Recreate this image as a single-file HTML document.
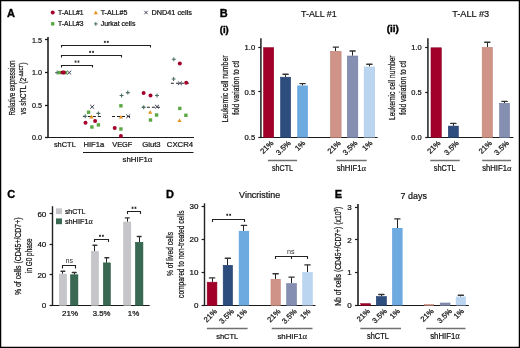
<!DOCTYPE html>
<html><head><meta charset="utf-8"><style>
html,body{margin:0;padding:0;background:#fff;}
svg{display:block;will-change:transform;filter:blur(0.3px);font-family:"Liberation Sans",sans-serif;}
</style></head><body>
<svg width="520" height="348" viewBox="0 0 520 348">
<rect width="520" height="348" fill="#fff"/>
<rect x="0.6" y="0.6" width="518.8" height="346.8" fill="none" stroke="#000" stroke-width="1.3"/>
<text x="7" y="17" font-size="11" text-anchor="start" font-weight="bold" fill="#000" stroke="#000" stroke-width="0.35">A</text>
<circle cx="52.7" cy="12.4" r="2" fill="#a2002b"/>
<text x="58" y="15" font-size="7" text-anchor="start" font-weight="normal" fill="#111" textLength="25.5" lengthAdjust="spacingAndGlyphs" stroke="#111" stroke-width="0.22">T-ALL#1</text>
<rect x="51" y="22.1" width="3.4" height="3.4" fill="#5aa843"/>
<text x="58" y="26.4" font-size="7" text-anchor="start" font-weight="normal" fill="#111" textLength="25.5" lengthAdjust="spacingAndGlyphs" stroke="#111" stroke-width="0.22">T-ALL#3</text>
<path d="M95.8,10.6 L97.9,14.2 L93.7,14.2 Z" fill="#e8901c"/>
<text x="100.7" y="15" font-size="7" text-anchor="start" font-weight="normal" fill="#111" textLength="26.7" lengthAdjust="spacingAndGlyphs" stroke="#111" stroke-width="0.22">T-ALL#5</text>
<path d="M95.8,22 v3.8 M93.9,23.9 h3.8" stroke="#4a7062" stroke-width="1"/>
<text x="100.7" y="26.4" font-size="7" text-anchor="start" font-weight="normal" fill="#111" textLength="34.7" lengthAdjust="spacingAndGlyphs" stroke="#111" stroke-width="0.22">Jurkat cells</text>
<path d="M144.3,10.8 l3.4,3.4 M147.7,10.8 l-3.4,3.4" stroke="#3b3f55" stroke-width="0.95"/>
<text x="151.5" y="15" font-size="7" text-anchor="start" font-weight="normal" fill="#111" textLength="40.5" lengthAdjust="spacingAndGlyphs" stroke="#111" stroke-width="0.22">DND41 cells</text>
<line x1="48" y1="37" x2="48" y2="138" stroke="#3a3a3a" stroke-width="1.8"/>
<line x1="45" y1="137.5" x2="194" y2="137.5" stroke="#1a1a1a" stroke-width="1.2"/>
<line x1="45" y1="39.5" x2="48" y2="39.5" stroke="#1a1a1a" stroke-width="1.3"/>
<text x="41.9" y="42.599999999999994" font-size="8" text-anchor="end" font-weight="normal" fill="#111" textLength="10" lengthAdjust="spacingAndGlyphs" stroke="#111" stroke-width="0.22">1.5</text>
<line x1="45" y1="72.5" x2="48" y2="72.5" stroke="#1a1a1a" stroke-width="1.3"/>
<text x="41.9" y="75.2" font-size="8" text-anchor="end" font-weight="normal" fill="#111" textLength="10" lengthAdjust="spacingAndGlyphs" stroke="#111" stroke-width="0.22">1.0</text>
<line x1="45" y1="105.5" x2="48" y2="105.5" stroke="#1a1a1a" stroke-width="1.3"/>
<text x="41.9" y="107.89999999999999" font-size="8" text-anchor="end" font-weight="normal" fill="#111" textLength="10" lengthAdjust="spacingAndGlyphs" stroke="#111" stroke-width="0.22">0.5</text>
<line x1="45" y1="137.5" x2="48" y2="137.5" stroke="#1a1a1a" stroke-width="1.3"/>
<text x="41.9" y="140.20000000000002" font-size="8" text-anchor="end" font-weight="normal" fill="#111" textLength="10" lengthAdjust="spacingAndGlyphs" stroke="#111" stroke-width="0.22">0.0</text>
<text transform="translate(14.5,88) rotate(-90)" font-size="8.8" text-anchor="middle" font-weight="normal" fill="#111" textLength="55" lengthAdjust="spacingAndGlyphs" stroke="#111" stroke-width="0.22">Relative expression</text>
<text transform="translate(25.6,88.5) rotate(-90)" font-size="8.8" text-anchor="middle" font-weight="normal" fill="#111" textLength="52" lengthAdjust="spacingAndGlyphs" stroke="#111" stroke-width="0.22">vs shCTL (2<tspan font-size="5.5" dy="-2.8">-ΔΔCT</tspan><tspan dy="2.8">)</tspan></text>
<text x="53.9" y="147.4" font-size="7.8" text-anchor="start" font-weight="normal" fill="#111" textLength="21.9" lengthAdjust="spacingAndGlyphs" stroke="#111" stroke-width="0.22">shCTL</text>
<text x="83.5" y="147.4" font-size="7.8" text-anchor="start" font-weight="normal" fill="#111" textLength="20.7" lengthAdjust="spacingAndGlyphs" stroke="#111" stroke-width="0.22">HIF1a</text>
<text x="112.3" y="147.4" font-size="7.8" text-anchor="start" font-weight="normal" fill="#111" textLength="20.0" lengthAdjust="spacingAndGlyphs" stroke="#111" stroke-width="0.22">VEGF</text>
<text x="142.2" y="147.4" font-size="7.8" text-anchor="start" font-weight="normal" fill="#111" textLength="18.4" lengthAdjust="spacingAndGlyphs" stroke="#111" stroke-width="0.22">Glut3</text>
<text x="166.8" y="147.4" font-size="7.8" text-anchor="start" font-weight="normal" fill="#111" textLength="26.4" lengthAdjust="spacingAndGlyphs" stroke="#111" stroke-width="0.22">CXCR4</text>
<line x1="83" y1="152.5" x2="193.5" y2="152.5" stroke="#1a1a1a" stroke-width="1.1"/>
<text x="122.5" y="162.3" font-size="7.8" text-anchor="start" font-weight="normal" fill="#111" textLength="29.9" lengthAdjust="spacingAndGlyphs" stroke="#111" stroke-width="0.22">shHIF1<tspan font-family="Liberation Serif" font-size="1.12em" stroke-width="0.1">α</tspan></text>
<path d="M61.5,47.5 L61.5,45.5 L150.5,45.5 L150.5,47.5" fill="none" stroke="#222" stroke-width="1.1"/>
<path d="M61.5,57.5 L61.5,55.5 L121.5,55.5 L121.5,57.5" fill="none" stroke="#222" stroke-width="1.1"/>
<path d="M61.5,67.5 L61.5,65.5 L92.5,65.5 L92.5,67.5" fill="none" stroke="#222" stroke-width="1.1"/>
<path d="M104.85,40.80L104.85,43.00M103.90,41.35L105.80,42.45M105.80,41.35L103.90,42.45M107.75,40.80L107.75,43.00M106.80,41.35L108.70,42.45M108.70,41.35L106.80,42.45" stroke="#222" stroke-width="0.8" fill="none"/>
<path d="M90.15,50.80L90.15,53.00M89.20,51.35L91.10,52.45M91.10,51.35L89.20,52.45M93.05,50.80L93.05,53.00M92.10,51.35L94.00,52.45M94.00,51.35L92.10,52.45" stroke="#222" stroke-width="0.8" fill="none"/>
<path d="M75.55,60.50L75.55,62.70M74.60,61.05L76.50,62.15M76.50,61.05L74.60,62.15M78.45,60.50L78.45,62.70M77.50,61.05L79.40,62.15M79.40,61.05L77.50,62.15" stroke="#222" stroke-width="0.8" fill="none"/>
<path d="M57.199999999999996,70.6 v4 M55.199999999999996,72.6 h4" stroke="#4a7062" stroke-width="1.1"/>
<rect x="57.8" y="70.89999999999999" width="3.4" height="3.4" fill="#5aa843"/>
<rect x="63.8" y="70.89999999999999" width="3.4" height="3.4" fill="#5aa843"/>
<circle cx="62.5" cy="72.6" r="2" fill="#a2002b"/>
<circle cx="63.8" cy="72.6" r="2" fill="#a2002b"/>
<path d="M67.2,70.69999999999999 l4,3.8 M71.2,70.69999999999999 l-4,3.8" stroke="#3b3f55" stroke-width="1"/>
<line x1="82.9" y1="116.5" x2="101.5" y2="116.5" stroke="#222" stroke-width="1.1" stroke-dasharray="3,2"/>
<path d="M90.2,104.89999999999999 l4,3.8 M94.2,104.89999999999999 l-4,3.8" stroke="#3b3f55" stroke-width="1"/>
<rect x="86.89999999999999" y="110.5" width="3.4" height="3.4" fill="#5aa843"/>
<path d="M98.4,111.4 v4 M96.4,113.4 h4" stroke="#4a7062" stroke-width="1.1"/>
<path d="M85.2,114.3 v4 M83.2,116.3 h4" stroke="#4a7062" stroke-width="1.1"/>
<path d="M91.5,114.8 L93.6,118.39999999999999 L89.4,118.39999999999999 Z" fill="#e8901c"/>
<circle cx="95.1" cy="121.1" r="2" fill="#a2002b"/>
<circle cx="85.5" cy="122.7" r="2" fill="#a2002b"/>
<rect x="96.7" y="123.2" width="3.4" height="3.4" fill="#5aa843"/>
<rect x="90.2" y="125.3" width="3.4" height="3.4" fill="#5aa843"/>
<line x1="112" y1="116.5" x2="130.2" y2="116.5" stroke="#222" stroke-width="1.1" stroke-dasharray="3,2"/>
<path d="M127.80000000000001,90.6 v4 M125.80000000000001,92.6 h4" stroke="#4a7062" stroke-width="1.1"/>
<path d="M121.60000000000001,93.5 v4 M119.60000000000001,95.5 h4" stroke="#4a7062" stroke-width="1.1"/>
<rect x="119.2" y="104.1" width="3.4" height="3.4" fill="#5aa843"/>
<path d="M120.9,115 L123.0,118.6 L118.80000000000001,118.6 Z" fill="#e8901c"/>
<path d="M126.19999999999999,114.39999999999999 l4,3.8 M130.2,114.39999999999999 l-4,3.8" stroke="#3b3f55" stroke-width="1"/>
<circle cx="114.7" cy="128" r="2" fill="#a2002b"/>
<rect x="119.2" y="127.3" width="3.4" height="3.4" fill="#5aa843"/>
<circle cx="120.9" cy="135.9" r="2" fill="#a2002b"/>
<line x1="141.9" y1="107.2" x2="160" y2="107.2" stroke="#222" stroke-width="1.1" stroke-dasharray="3,2"/>
<circle cx="143.6" cy="92.9" r="2" fill="#a2002b"/>
<circle cx="150.5" cy="95.5" r="2" fill="#a2002b"/>
<path d="M157.0,93.5 v4 M155.0,95.5 h4" stroke="#4a7062" stroke-width="1.1"/>
<path d="M143.70000000000002,105.2 v4 M141.70000000000002,107.2 h4" stroke="#4a7062" stroke-width="1.1"/>
<path d="M155.0,104.8 l4,3.8 M159.0,104.8 l-4,3.8" stroke="#3b3f55" stroke-width="1"/>
<path d="M150.2,110.2 L152.29999999999998,113.8 L148.1,113.8 Z" fill="#e8901c"/>
<rect x="154.9" y="113.3" width="3.4" height="3.4" fill="#5aa843"/>
<rect x="148.8" y="118.3" width="3.4" height="3.4" fill="#5aa843"/>
<line x1="170.9" y1="83.3" x2="189.3" y2="83.3" stroke="#222" stroke-width="1.1" stroke-dasharray="3,2"/>
<path d="M173.8,57.2 v4 M171.8,59.2 h4" stroke="#4a7062" stroke-width="1.1"/>
<circle cx="179.8" cy="63.4" r="2" fill="#a2002b"/>
<path d="M173.6,77 v4 M171.6,79 h4" stroke="#4a7062" stroke-width="1.1"/>
<path d="M177.9,81.39999999999999 l4,3.8 M181.9,81.39999999999999 l-4,3.8" stroke="#3b3f55" stroke-width="1"/>
<circle cx="186.2" cy="82.8" r="2" fill="#a2002b"/>
<rect x="178.10000000000002" y="106.7" width="3.4" height="3.4" fill="#5aa843"/>
<rect x="184.20000000000002" y="113.6" width="3.4" height="3.4" fill="#5aa843"/>
<path d="M179.5,118.5 L181.6,122.1 L177.4,122.1 Z" fill="#e8901c"/>
<text x="219.8" y="16.9" font-size="11" text-anchor="start" font-weight="bold" fill="#000" stroke="#000" stroke-width="0.35">B</text>
<text x="219.8" y="32.8" font-size="8.5" text-anchor="start" font-weight="bold" fill="#000" textLength="9" lengthAdjust="spacingAndGlyphs" stroke="#000" stroke-width="0.35">(i)</text>
<text x="301" y="16.5" font-size="9.7" text-anchor="start" font-weight="normal" fill="#111" textLength="35.7" lengthAdjust="spacingAndGlyphs" stroke="#111" stroke-width="0.2">T-ALL #1</text>
<text x="386.7" y="32.2" font-size="8.5" text-anchor="start" font-weight="bold" fill="#000" textLength="12.2" lengthAdjust="spacingAndGlyphs" stroke="#000" stroke-width="0.35">(ii)</text>
<text x="452.2" y="16.5" font-size="9.7" text-anchor="start" font-weight="normal" fill="#111" textLength="37" lengthAdjust="spacingAndGlyphs" stroke="#111" stroke-width="0.2">T-ALL #3</text>
<line x1="260.9" y1="38.3" x2="260.9" y2="138" stroke="#444" stroke-width="1.8"/>
<line x1="260.5" y1="137.5" x2="377.6" y2="137.5" stroke="#1a1a1a" stroke-width="1"/>
<line x1="258.3" y1="47.5" x2="261" y2="47.5" stroke="#1a1a1a" stroke-width="1.2"/>
<text x="255.2" y="50.199999999999996" font-size="8" text-anchor="end" font-weight="normal" fill="#111" textLength="10.6" lengthAdjust="spacingAndGlyphs" stroke="#111" stroke-width="0.22">1.0</text>
<line x1="258.3" y1="91.5" x2="261" y2="91.5" stroke="#1a1a1a" stroke-width="1.2"/>
<text x="255.2" y="94.7" font-size="8" text-anchor="end" font-weight="normal" fill="#111" textLength="10.6" lengthAdjust="spacingAndGlyphs" stroke="#111" stroke-width="0.22">0.5</text>
<line x1="258.3" y1="137.5" x2="261" y2="137.5" stroke="#1a1a1a" stroke-width="1.2"/>
<text x="255.2" y="140.4" font-size="8" text-anchor="end" font-weight="normal" fill="#111" textLength="10.6" lengthAdjust="spacingAndGlyphs" stroke="#111" stroke-width="0.22">0.5</text>
<rect x="263.6" y="47.699999999999996" width="10.099999999999989" height="89.8" fill="#a2002b" stroke="#8a0024" stroke-width="0.6"/>
<line x1="285.5" y1="76.9" x2="285.5" y2="74.3" stroke="#222" stroke-width="1.0"/>
<line x1="283.0" y1="74.3" x2="288.20000000000005" y2="74.3" stroke="#333" stroke-width="1.4" stroke-linecap="round"/>
<rect x="280.6" y="77.2" width="9.999999999999966" height="60.3" fill="#2d4d7e" stroke="#213d6c" stroke-width="0.6"/>
<line x1="302.5" y1="85.5" x2="302.5" y2="83.6" stroke="#222" stroke-width="1.0"/>
<line x1="299.94999999999993" y1="83.6" x2="305.15" y2="83.6" stroke="#333" stroke-width="1.4" stroke-linecap="round"/>
<rect x="297.2" y="85.5" width="10.699999999999989" height="52.0" fill="#6daae0"/>
<line x1="335.5" y1="51" x2="335.5" y2="47.1" stroke="#222" stroke-width="1.0"/>
<line x1="333.19999999999993" y1="47.1" x2="338.4" y2="47.1" stroke="#333" stroke-width="1.4" stroke-linecap="round"/>
<rect x="330.5" y="51.3" width="10.599999999999989" height="86.2" fill="#d09387" stroke="#c08276" stroke-width="0.6"/>
<line x1="352.5" y1="55.7" x2="352.5" y2="51" stroke="#222" stroke-width="1.0"/>
<line x1="350.0" y1="51" x2="355.20000000000005" y2="51" stroke="#333" stroke-width="1.4" stroke-linecap="round"/>
<rect x="347.40000000000003" y="56.0" width="10.4" height="81.5" fill="#848fb1" stroke="#717ca0" stroke-width="0.6"/>
<line x1="369.5" y1="66.6" x2="369.5" y2="64.3" stroke="#222" stroke-width="1.0"/>
<line x1="366.79999999999995" y1="64.3" x2="372.0" y2="64.3" stroke="#333" stroke-width="1.4" stroke-linecap="round"/>
<rect x="363.8" y="66.6" width="11.199999999999989" height="70.9" fill="#bbd5f1"/>
<text transform="translate(227.9,88.9) rotate(-90)" font-size="8.7" text-anchor="middle" font-weight="normal" fill="#111" textLength="66.8" lengthAdjust="spacingAndGlyphs" stroke="#111" stroke-width="0.22">Leukemic cell number</text>
<text transform="translate(238.6,87.7) rotate(-90)" font-size="8.7" text-anchor="middle" font-weight="normal" fill="#111" textLength="54" lengthAdjust="spacingAndGlyphs" stroke="#111" stroke-width="0.22">fold variation to ctl</text>
<text transform="translate(274,143.60000000000002) rotate(-45)" font-size="7.6" text-anchor="end" font-weight="normal" fill="#111" stroke="#111" stroke-width="0.22">21%</text>
<text transform="translate(291.3,143.60000000000002) rotate(-45)" font-size="7.6" text-anchor="end" font-weight="normal" fill="#111" stroke="#111" stroke-width="0.22">3.5%</text>
<text transform="translate(305.7,143.60000000000002) rotate(-45)" font-size="7.6" text-anchor="end" font-weight="normal" fill="#111" stroke="#111" stroke-width="0.22">1%</text>
<text transform="translate(341.3,143.60000000000002) rotate(-45)" font-size="7.6" text-anchor="end" font-weight="normal" fill="#111" stroke="#111" stroke-width="0.22">21%</text>
<text transform="translate(358.1,143.60000000000002) rotate(-45)" font-size="7.6" text-anchor="end" font-weight="normal" fill="#111" stroke="#111" stroke-width="0.22">3.5%</text>
<text transform="translate(373.1,143.60000000000002) rotate(-45)" font-size="7.6" text-anchor="end" font-weight="normal" fill="#111" stroke="#111" stroke-width="0.22">1%</text>
<line x1="267.9" y1="160.5" x2="297.1" y2="160.5" stroke="#707070" stroke-width="1.5"/>
<text x="272" y="170.6" font-size="8.2" text-anchor="start" font-weight="normal" fill="#111" textLength="21" lengthAdjust="spacingAndGlyphs" stroke="#111" stroke-width="0.22">shCTL</text>
<line x1="336.1" y1="160.5" x2="366.7" y2="160.5" stroke="#707070" stroke-width="1.5"/>
<text x="336.7" y="170.6" font-size="8.2" text-anchor="start" font-weight="normal" fill="#111" textLength="29.4" lengthAdjust="spacingAndGlyphs" stroke="#111" stroke-width="0.22">shHIF1<tspan font-family="Liberation Serif" font-size="1.12em" stroke-width="0.1">α</tspan></text>
<line x1="427.9" y1="38.3" x2="427.9" y2="138" stroke="#444" stroke-width="1.8"/>
<line x1="427.4" y1="137.5" x2="513.4" y2="137.5" stroke="#1a1a1a" stroke-width="1"/>
<line x1="425.2" y1="47.5" x2="427.9" y2="47.5" stroke="#1a1a1a" stroke-width="1.2"/>
<text x="421.7" y="50.199999999999996" font-size="8" text-anchor="end" font-weight="normal" fill="#111" textLength="10.4" lengthAdjust="spacingAndGlyphs" stroke="#111" stroke-width="0.22">1.0</text>
<line x1="425.2" y1="92.5" x2="427.9" y2="92.5" stroke="#1a1a1a" stroke-width="1.2"/>
<text x="421.7" y="95.0" font-size="8" text-anchor="end" font-weight="normal" fill="#111" textLength="10.4" lengthAdjust="spacingAndGlyphs" stroke="#111" stroke-width="0.22">0.5</text>
<line x1="425.2" y1="137.5" x2="427.9" y2="137.5" stroke="#1a1a1a" stroke-width="1.2"/>
<text x="421.7" y="140.4" font-size="8" text-anchor="end" font-weight="normal" fill="#111" textLength="10.4" lengthAdjust="spacingAndGlyphs" stroke="#111" stroke-width="0.22">0.0</text>
<rect x="431.0" y="47.8" width="10.300000000000034" height="89.7" fill="#a2002b" stroke="#8a0024" stroke-width="0.6"/>
<line x1="453.5" y1="125.8" x2="453.5" y2="123.4" stroke="#222" stroke-width="1.0"/>
<line x1="450.7" y1="123.4" x2="455.90000000000003" y2="123.4" stroke="#333" stroke-width="1.4" stroke-linecap="round"/>
<rect x="448.3" y="126.1" width="10.000000000000023" height="11.400000000000002" fill="#2d4d7e" stroke="#213d6c" stroke-width="0.6"/>
<line x1="487.5" y1="47.1" x2="487.5" y2="42.3" stroke="#222" stroke-width="1.0"/>
<line x1="484.69999999999993" y1="42.3" x2="489.9" y2="42.3" stroke="#333" stroke-width="1.4" stroke-linecap="round"/>
<rect x="482.2" y="47.4" width="10.200000000000012" height="90.10000000000001" fill="#d09387" stroke="#c08276" stroke-width="0.6"/>
<line x1="504.5" y1="103" x2="504.5" y2="101.4" stroke="#222" stroke-width="1.0"/>
<line x1="501.95" y1="101.4" x2="507.15000000000003" y2="101.4" stroke="#333" stroke-width="1.4" stroke-linecap="round"/>
<rect x="499.6" y="103.3" width="9.9" height="34.2" fill="#848fb1" stroke="#717ca0" stroke-width="0.6"/>
<text transform="translate(394.8,87.75) rotate(-90)" font-size="8.7" text-anchor="middle" font-weight="normal" fill="#111" textLength="64.6" lengthAdjust="spacingAndGlyphs" stroke="#111" stroke-width="0.22">Leukemic cell number</text>
<text transform="translate(405.6,87.7) rotate(-90)" font-size="8.7" text-anchor="middle" font-weight="normal" fill="#111" textLength="54" lengthAdjust="spacingAndGlyphs" stroke="#111" stroke-width="0.22">fold variation to ctl</text>
<text transform="translate(441,143.60000000000002) rotate(-45)" font-size="7.6" text-anchor="end" font-weight="normal" fill="#111" stroke="#111" stroke-width="0.22">21%</text>
<text transform="translate(459.4,143.60000000000002) rotate(-45)" font-size="7.6" text-anchor="end" font-weight="normal" fill="#111" stroke="#111" stroke-width="0.22">3.5%</text>
<text transform="translate(492.5,143.60000000000002) rotate(-45)" font-size="7.6" text-anchor="end" font-weight="normal" fill="#111" stroke="#111" stroke-width="0.22">21%</text>
<text transform="translate(509.5,143.60000000000002) rotate(-45)" font-size="7.6" text-anchor="end" font-weight="normal" fill="#111" stroke="#111" stroke-width="0.22">3.5%</text>
<line x1="430.2" y1="160.5" x2="459.7" y2="160.5" stroke="#707070" stroke-width="1.5"/>
<text x="433.8" y="170.8" font-size="8.2" text-anchor="start" font-weight="normal" fill="#111" textLength="21.8" lengthAdjust="spacingAndGlyphs" stroke="#111" stroke-width="0.22">shCTL</text>
<line x1="482.2" y1="160.5" x2="511" y2="160.5" stroke="#707070" stroke-width="1.5"/>
<text x="482.2" y="170.8" font-size="8.2" text-anchor="start" font-weight="normal" fill="#111" textLength="29.3" lengthAdjust="spacingAndGlyphs" stroke="#111" stroke-width="0.22">shHIF1<tspan font-family="Liberation Serif" font-size="1.12em" stroke-width="0.1">α</tspan></text>
<text x="7.2" y="197.9" font-size="11" text-anchor="start" font-weight="bold" fill="#000" stroke="#000" stroke-width="0.35">C</text>
<line x1="52.5" y1="206.2" x2="52.5" y2="305.9" stroke="#222" stroke-width="1.4"/>
<line x1="50" y1="305.5" x2="149.7" y2="305.5" stroke="#1a1a1a" stroke-width="1"/>
<line x1="49.6" y1="213.5" x2="52.3" y2="213.5" stroke="#1a1a1a" stroke-width="1.2"/>
<text x="46.3" y="216.60000000000002" font-size="8" text-anchor="end" font-weight="normal" fill="#111" stroke="#111" stroke-width="0.22">60</text>
<line x1="49.6" y1="244.5" x2="52.3" y2="244.5" stroke="#1a1a1a" stroke-width="1.2"/>
<text x="46.3" y="247.20000000000002" font-size="8" text-anchor="end" font-weight="normal" fill="#111" stroke="#111" stroke-width="0.22">40</text>
<line x1="49.6" y1="274.5" x2="52.3" y2="274.5" stroke="#1a1a1a" stroke-width="1.2"/>
<text x="46.3" y="277.5" font-size="8" text-anchor="end" font-weight="normal" fill="#111" stroke="#111" stroke-width="0.22">20</text>
<line x1="49.6" y1="305.5" x2="52.3" y2="305.5" stroke="#1a1a1a" stroke-width="1.2"/>
<text x="46.3" y="308.2" font-size="8" text-anchor="end" font-weight="normal" fill="#111" stroke="#111" stroke-width="0.22">0</text>
<rect x="56" y="208.3" width="6" height="5.8" fill="#c6c5ca"/>
<rect x="56" y="218.4" width="6" height="5.8" fill="#396952"/>
<text x="64.9" y="213.6" font-size="7" text-anchor="start" font-weight="normal" fill="#111" textLength="20.5" lengthAdjust="spacingAndGlyphs" stroke="#111" stroke-width="0.22">shCTL</text>
<text x="64.9" y="223.7" font-size="7" text-anchor="start" font-weight="normal" fill="#111" textLength="27.9" lengthAdjust="spacingAndGlyphs" stroke="#111" stroke-width="0.22">shHIF1<tspan font-family="Liberation Serif" font-size="1.12em" stroke-width="0.1">α</tspan></text>
<line x1="62.5" y1="273.8" x2="62.5" y2="271.2" stroke="#222" stroke-width="1.0"/>
<line x1="61.00000000000001" y1="271.2" x2="64.80000000000001" y2="271.2" stroke="#333" stroke-width="1.4" stroke-linecap="round"/>
<rect x="59.4" y="274.1" width="7.000000000000002" height="31.299999999999965" fill="#c6c5ca" stroke="#bab9bf" stroke-width="0.6"/>
<line x1="74.5" y1="274.5" x2="74.5" y2="272.5" stroke="#222" stroke-width="1.0"/>
<line x1="72.35" y1="272.5" x2="76.15" y2="272.5" stroke="#333" stroke-width="1.4" stroke-linecap="round"/>
<rect x="70.6" y="274.8" width="7.300000000000006" height="30.599999999999977" fill="#396952" stroke="#27553f" stroke-width="0.6"/>
<line x1="94.5" y1="251.2" x2="94.5" y2="245.2" stroke="#222" stroke-width="1.0"/>
<line x1="93.0" y1="245.2" x2="96.80000000000001" y2="245.2" stroke="#333" stroke-width="1.4" stroke-linecap="round"/>
<rect x="91.5" y="251.5" width="6.799999999999992" height="53.89999999999999" fill="#c6c5ca" stroke="#bab9bf" stroke-width="0.6"/>
<line x1="106.5" y1="262.6" x2="106.5" y2="257.7" stroke="#222" stroke-width="1.0"/>
<line x1="104.94999999999999" y1="257.7" x2="108.75" y2="257.7" stroke="#333" stroke-width="1.4" stroke-linecap="round"/>
<rect x="103.39999999999999" y="262.90000000000003" width="6.9" height="42.49999999999996" fill="#396952" stroke="#27553f" stroke-width="0.6"/>
<line x1="127.5" y1="221.8" x2="127.5" y2="217.9" stroke="#222" stroke-width="1.0"/>
<line x1="125.35" y1="217.9" x2="129.15" y2="217.9" stroke="#333" stroke-width="1.4" stroke-linecap="round"/>
<rect x="123.7" y="222.10000000000002" width="7.099999999999989" height="83.29999999999997" fill="#c6c5ca" stroke="#bab9bf" stroke-width="0.6"/>
<line x1="139.5" y1="242" x2="139.5" y2="236.5" stroke="#222" stroke-width="1.0"/>
<line x1="137.29999999999998" y1="236.5" x2="141.1" y2="236.5" stroke="#333" stroke-width="1.4" stroke-linecap="round"/>
<rect x="135.5" y="242.3" width="7.4" height="63.09999999999998" fill="#396952" stroke="#27553f" stroke-width="0.6"/>
<path d="M62.5,268.4 L62.5,265.5 L75.5,265.5 L75.5,268.4" fill="none" stroke="#222" stroke-width="1.1"/>
<path d="M94.5,242.1 L94.5,239.5 L108.5,239.5 L108.5,242.1" fill="none" stroke="#222" stroke-width="1.1"/>
<path d="M127.5,214.1 L127.5,211.5 L140.5,211.5 L140.5,214.1" fill="none" stroke="#222" stroke-width="1.1"/>
<text x="69.3" y="263.1" font-size="7.2" text-anchor="middle" font-weight="normal" fill="#333">ns</text>
<path d="M99.95,234.70L99.95,236.90M99.00,235.25L100.90,236.35M100.90,235.25L99.00,236.35M102.85,234.70L102.85,236.90M101.90,235.25L103.80,236.35M103.80,235.25L101.90,236.35" stroke="#222" stroke-width="0.8" fill="none"/>
<path d="M132.55,206.70L132.55,208.90M131.60,207.25L133.50,208.35M133.50,207.25L131.60,208.35M135.45,206.70L135.45,208.90M134.50,207.25L136.40,208.35M136.40,207.25L134.50,208.35" stroke="#222" stroke-width="0.8" fill="none"/>
<text x="61.9" y="315.6" font-size="7.5" text-anchor="start" font-weight="normal" fill="#111" textLength="16.2" lengthAdjust="spacingAndGlyphs" stroke="#111" stroke-width="0.22">21%</text>
<text x="92.7" y="315.6" font-size="7.5" text-anchor="start" font-weight="normal" fill="#111" textLength="17.7" lengthAdjust="spacingAndGlyphs" stroke="#111" stroke-width="0.22">3.5%</text>
<text x="127.8" y="315.6" font-size="7.5" text-anchor="start" font-weight="normal" fill="#111" textLength="11.5" lengthAdjust="spacingAndGlyphs" stroke="#111" stroke-width="0.22">1%</text>
<text transform="translate(20.6,256.3) rotate(-90)" font-size="8.7" text-anchor="middle" font-weight="normal" fill="#111" textLength="77.6" lengthAdjust="spacingAndGlyphs" stroke="#111" stroke-width="0.22">% of cells (CD45+/CD7+)</text>
<text transform="translate(31.8,255.7) rotate(-90)" font-size="8.7" text-anchor="middle" font-weight="normal" fill="#111" textLength="34.5" lengthAdjust="spacingAndGlyphs" stroke="#111" stroke-width="0.22">in G0 phase</text>
<text x="166" y="197.6" font-size="11" text-anchor="start" font-weight="bold" fill="#000" stroke="#000" stroke-width="0.35">D</text>
<text x="239.1" y="197.8" font-size="8.8" text-anchor="start" font-weight="normal" fill="#111" textLength="41.1" lengthAdjust="spacingAndGlyphs" stroke="#111" stroke-width="0.22">Vincristine</text>
<line x1="204.5" y1="203.3" x2="204.5" y2="306" stroke="#222" stroke-width="1.4"/>
<line x1="204" y1="305.5" x2="315.5" y2="305.5" stroke="#1a1a1a" stroke-width="1"/>
<line x1="201.6" y1="206.5" x2="204.5" y2="206.5" stroke="#1a1a1a" stroke-width="1.2"/>
<text x="198.5" y="209.0" font-size="8" text-anchor="end" font-weight="normal" fill="#111" stroke="#111" stroke-width="0.22">30</text>
<line x1="201.6" y1="239.5" x2="204.5" y2="239.5" stroke="#1a1a1a" stroke-width="1.2"/>
<text x="198.5" y="241.9" font-size="8" text-anchor="end" font-weight="normal" fill="#111" stroke="#111" stroke-width="0.22">20</text>
<line x1="201.6" y1="272.5" x2="204.5" y2="272.5" stroke="#1a1a1a" stroke-width="1.2"/>
<text x="198.5" y="274.90000000000003" font-size="8" text-anchor="end" font-weight="normal" fill="#111" stroke="#111" stroke-width="0.22">10</text>
<line x1="201.6" y1="305.5" x2="204.5" y2="305.5" stroke="#1a1a1a" stroke-width="1.2"/>
<text x="198.5" y="308.2" font-size="8" text-anchor="end" font-weight="normal" fill="#111" stroke="#111" stroke-width="0.22">0</text>
<line x1="212.5" y1="281.9" x2="212.5" y2="277.9" stroke="#222" stroke-width="1.0"/>
<line x1="209.45000000000002" y1="277.9" x2="214.65" y2="277.9" stroke="#333" stroke-width="1.4" stroke-linecap="round"/>
<rect x="207.20000000000002" y="282.2" width="9.699999999999983" height="23.300000000000022" fill="#a2002b" stroke="#8a0024" stroke-width="0.6"/>
<line x1="227.5" y1="265" x2="227.5" y2="258.3" stroke="#222" stroke-width="1.0"/>
<line x1="225.25000000000003" y1="258.3" x2="230.45000000000002" y2="258.3" stroke="#333" stroke-width="1.4" stroke-linecap="round"/>
<rect x="223.20000000000002" y="265.3" width="9.300000000000006" height="40.2" fill="#2d4d7e" stroke="#213d6c" stroke-width="0.6"/>
<line x1="243.5" y1="230.9" x2="243.5" y2="225.4" stroke="#222" stroke-width="1.0"/>
<line x1="241.35" y1="225.4" x2="246.54999999999998" y2="225.4" stroke="#333" stroke-width="1.4" stroke-linecap="round"/>
<rect x="238.8" y="230.9" width="10.299999999999983" height="74.6" fill="#6daae0"/>
<line x1="275.5" y1="279" x2="275.5" y2="273.7" stroke="#222" stroke-width="1.0"/>
<line x1="273.04999999999995" y1="273.7" x2="278.25" y2="273.7" stroke="#333" stroke-width="1.4" stroke-linecap="round"/>
<rect x="271.0" y="279.3" width="9.300000000000034" height="26.2" fill="#d09387" stroke="#c08276" stroke-width="0.6"/>
<line x1="291.5" y1="283.3" x2="291.5" y2="277.1" stroke="#222" stroke-width="1.0"/>
<line x1="288.94999999999993" y1="277.1" x2="294.15" y2="277.1" stroke="#333" stroke-width="1.4" stroke-linecap="round"/>
<rect x="286.7" y="283.6" width="9.700000000000012" height="21.899999999999988" fill="#848fb1" stroke="#717ca0" stroke-width="0.6"/>
<line x1="307.5" y1="272.1" x2="307.5" y2="264.9" stroke="#222" stroke-width="1.0"/>
<line x1="304.9" y1="264.9" x2="310.1" y2="264.9" stroke="#333" stroke-width="1.4" stroke-linecap="round"/>
<rect x="302.2" y="272.1" width="10.600000000000023" height="33.39999999999998" fill="#bbd5f1"/>
<path d="M212.5,222.1 L212.5,219.5 L244.5,219.5 L244.5,222.1" fill="none" stroke="#222" stroke-width="1.1"/>
<path d="M227.25,213.70L227.25,215.90M226.30,214.25L228.20,215.35M228.20,214.25L226.30,215.35M230.15,213.70L230.15,215.90M229.20,214.25L231.10,215.35M231.10,214.25L229.20,215.35" stroke="#222" stroke-width="0.8" fill="none"/>
<path d="M275.5,259.1 L275.5,256.5 L307.5,256.5 L307.5,259.1 M291.5,256.5 L291.5,259.1" fill="none" stroke="#222" stroke-width="1.1"/>
<text x="290.7" y="254.3" font-size="7.2" text-anchor="middle" font-weight="normal" fill="#333">ns</text>
<text transform="translate(217.5,311.9) rotate(-45)" font-size="7.6" text-anchor="end" font-weight="normal" fill="#111" stroke="#111" stroke-width="0.22">21%</text>
<text transform="translate(234.6,311.9) rotate(-45)" font-size="7.6" text-anchor="end" font-weight="normal" fill="#111" stroke="#111" stroke-width="0.22">3.5%</text>
<text transform="translate(247.6,311.9) rotate(-45)" font-size="7.6" text-anchor="end" font-weight="normal" fill="#111" stroke="#111" stroke-width="0.22">1%</text>
<text transform="translate(281,311.9) rotate(-45)" font-size="7.6" text-anchor="end" font-weight="normal" fill="#111" stroke="#111" stroke-width="0.22">21%</text>
<text transform="translate(297.2,311.9) rotate(-45)" font-size="7.6" text-anchor="end" font-weight="normal" fill="#111" stroke="#111" stroke-width="0.22">3.5%</text>
<text transform="translate(311.1,311.9) rotate(-45)" font-size="7.6" text-anchor="end" font-weight="normal" fill="#111" stroke="#111" stroke-width="0.22">1%</text>
<line x1="206.9" y1="328.5" x2="247.6" y2="328.5" stroke="#707070" stroke-width="1.5"/>
<text x="216.2" y="338.9" font-size="8" text-anchor="start" font-weight="normal" fill="#111" textLength="22.1" lengthAdjust="spacingAndGlyphs" stroke="#111" stroke-width="0.22">shCTL</text>
<line x1="271.75" y1="328.5" x2="312.5" y2="328.5" stroke="#707070" stroke-width="1.5"/>
<text x="277.4" y="338.9" font-size="8" text-anchor="start" font-weight="normal" fill="#111" textLength="29.8" lengthAdjust="spacingAndGlyphs" stroke="#111" stroke-width="0.22">shHIF1<tspan font-family="Liberation Serif" font-size="1.12em" stroke-width="0.1">α</tspan></text>
<text transform="translate(172.6,254) rotate(-90)" font-size="8.7" text-anchor="middle" font-weight="normal" fill="#111" textLength="44.2" lengthAdjust="spacingAndGlyphs" stroke="#111" stroke-width="0.22">% of lived cells</text>
<text transform="translate(183.7,254.2) rotate(-90)" font-size="8.7" text-anchor="middle" font-weight="normal" fill="#111" textLength="87.4" lengthAdjust="spacingAndGlyphs" stroke="#111" stroke-width="0.22">compared to non-treated cells</text>
<text x="334.8" y="197.8" font-size="11" text-anchor="start" font-weight="bold" fill="#000" stroke="#000" stroke-width="0.35">E</text>
<text x="400.6" y="198.5" font-size="9.2" text-anchor="start" font-weight="normal" fill="#111" textLength="26.3" lengthAdjust="spacingAndGlyphs" stroke="#111" stroke-width="0.22">7 days</text>
<line x1="358" y1="204.1" x2="358" y2="306" stroke="#444" stroke-width="1.9"/>
<line x1="357.3" y1="305.5" x2="468.8" y2="305.5" stroke="#1a1a1a" stroke-width="1"/>
<line x1="355" y1="207.5" x2="357.8" y2="207.5" stroke="#1a1a1a" stroke-width="1.2"/>
<text x="351.6" y="209.9" font-size="8" text-anchor="end" font-weight="normal" fill="#111" stroke="#111" stroke-width="0.22">3</text>
<line x1="355" y1="239.5" x2="357.8" y2="239.5" stroke="#1a1a1a" stroke-width="1.2"/>
<text x="351.6" y="242.70000000000002" font-size="8" text-anchor="end" font-weight="normal" fill="#111" stroke="#111" stroke-width="0.22">2</text>
<line x1="355" y1="272.5" x2="357.8" y2="272.5" stroke="#1a1a1a" stroke-width="1.2"/>
<text x="351.6" y="275.2" font-size="8" text-anchor="end" font-weight="normal" fill="#111" stroke="#111" stroke-width="0.22">1</text>
<line x1="355" y1="305.5" x2="357.8" y2="305.5" stroke="#1a1a1a" stroke-width="1.2"/>
<text x="351.6" y="308.2" font-size="8" text-anchor="end" font-weight="normal" fill="#111" stroke="#111" stroke-width="0.22">0</text>
<rect x="360.5" y="303.7" width="10.099999999999989" height="1.7" fill="#a2002b" stroke="#8a0024" stroke-width="0.6"/>
<line x1="381.5" y1="296.3" x2="381.5" y2="294.5" stroke="#222" stroke-width="1.0"/>
<line x1="378.75" y1="294.5" x2="383.95000000000005" y2="294.5" stroke="#333" stroke-width="1.4" stroke-linecap="round"/>
<rect x="376.3" y="296.6" width="10.099999999999989" height="8.799999999999965" fill="#2d4d7e" stroke="#213d6c" stroke-width="0.6"/>
<line x1="397.5" y1="228" x2="397.5" y2="218.9" stroke="#222" stroke-width="1.0"/>
<line x1="394.75" y1="218.9" x2="399.95000000000005" y2="218.9" stroke="#333" stroke-width="1.4" stroke-linecap="round"/>
<rect x="392.1" y="228" width="10.5" height="77.39999999999998" fill="#6daae0"/>
<rect x="424.5" y="304.6" width="9.000000000000023" height="0.7999999999999658" fill="#d09387" stroke="#c08276" stroke-width="0.6"/>
<rect x="440.2" y="303.0" width="9.800000000000034" height="2.399999999999989" fill="#848fb1" stroke="#717ca0" stroke-width="0.6"/>
<line x1="460.5" y1="296.6" x2="460.5" y2="295.2" stroke="#222" stroke-width="1.0"/>
<line x1="458.25" y1="295.2" x2="463.45000000000005" y2="295.2" stroke="#333" stroke-width="1.4" stroke-linecap="round"/>
<rect x="455.8" y="296.6" width="10.099999999999966" height="8.799999999999955" fill="#bbd5f1"/>
<text transform="translate(370.5,311.6) rotate(-45)" font-size="7.6" text-anchor="end" font-weight="normal" fill="#111" stroke="#111" stroke-width="0.22">21%</text>
<text transform="translate(387.5,311.6) rotate(-45)" font-size="7.6" text-anchor="end" font-weight="normal" fill="#111" stroke="#111" stroke-width="0.22">3.5%</text>
<text transform="translate(400.6,311.6) rotate(-45)" font-size="7.6" text-anchor="end" font-weight="normal" fill="#111" stroke="#111" stroke-width="0.22">1%</text>
<text transform="translate(434.2,311.6) rotate(-45)" font-size="7.6" text-anchor="end" font-weight="normal" fill="#111" stroke="#111" stroke-width="0.22">21%</text>
<text transform="translate(452.5,311.6) rotate(-45)" font-size="7.6" text-anchor="end" font-weight="normal" fill="#111" stroke="#111" stroke-width="0.22">3.5%</text>
<text transform="translate(464.5,311.6) rotate(-45)" font-size="7.6" text-anchor="end" font-weight="normal" fill="#111" stroke="#111" stroke-width="0.22">1%</text>
<line x1="360.3" y1="328.5" x2="401" y2="328.5" stroke="#707070" stroke-width="1.5"/>
<text x="367" y="338.8" font-size="8.3" text-anchor="start" font-weight="normal" fill="#111" textLength="21.8" lengthAdjust="spacingAndGlyphs" stroke="#111" stroke-width="0.22">shCTL</text>
<line x1="426.25" y1="328.5" x2="465.5" y2="328.5" stroke="#707070" stroke-width="1.5"/>
<text x="430.2" y="338.8" font-size="8.3" text-anchor="start" font-weight="normal" fill="#111" textLength="29.7" lengthAdjust="spacingAndGlyphs" stroke="#111" stroke-width="0.22">shHIF1<tspan font-family="Liberation Serif" font-size="1.12em" stroke-width="0.1">α</tspan></text>
<text transform="translate(341,256.3) rotate(-90)" font-size="8.7" text-anchor="middle" font-weight="normal" fill="#111" textLength="99" lengthAdjust="spacingAndGlyphs" stroke="#111" stroke-width="0.22">Nb of cells (CD45+/CD7+) (x10<tspan font-size="5.5" dy="-2.8">5</tspan><tspan dy="2.8">)</tspan></text>
</svg>
</body></html>
